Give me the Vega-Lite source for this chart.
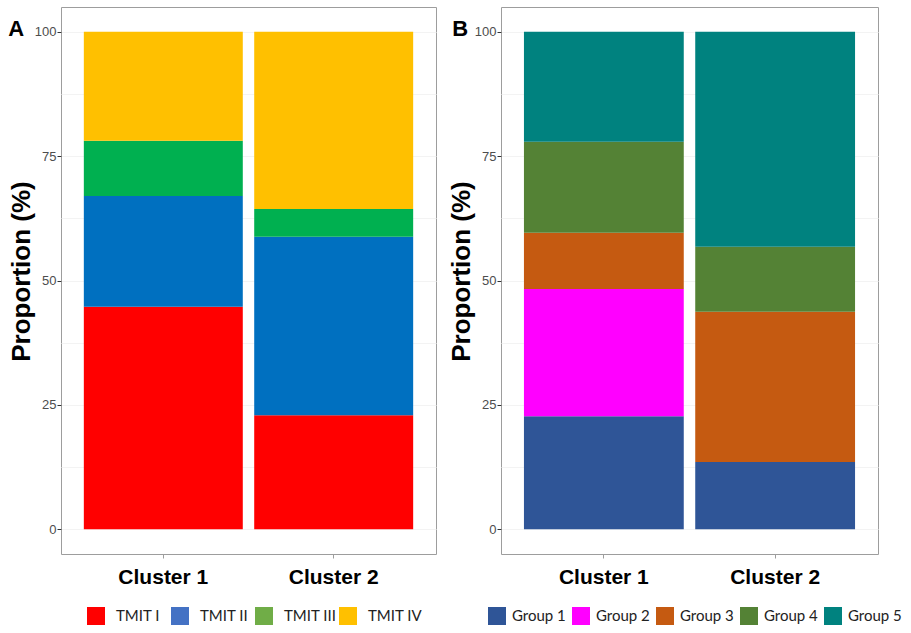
{
  "$schema": "https://vega.github.io/schema/vega-lite/v6.json",
  "background": "white",
  "padding": {"left": 7, "top": 6, "right": 2, "bottom": 5},
  "spacing": 10,
  "hconcat": [
    {
      "width": 375,
      "height": 547,
      "title": {"text": "A", "anchor": "start", "frame": "bounds", "fontSize": 22, "fontWeight": "bold", "font": "Liberation Sans", "color": "black", "dy": 38, "dx": 0},
      "data": {
        "values": [
          {"cluster": "Cluster 1", "type": "TMIT I", "pct": 44.7},
          {"cluster": "Cluster 1", "type": "TMIT II", "pct": 22.3},
          {"cluster": "Cluster 1", "type": "TMIT III", "pct": 11.1},
          {"cluster": "Cluster 1", "type": "TMIT IV", "pct": 21.9},
          {"cluster": "Cluster 2", "type": "TMIT I", "pct": 22.9},
          {"cluster": "Cluster 2", "type": "TMIT II", "pct": 35.9},
          {"cluster": "Cluster 2", "type": "TMIT III", "pct": 5.6},
          {"cluster": "Cluster 2", "type": "TMIT IV", "pct": 35.6}
        ]
      },
      "encoding": {
        "x": {
          "field": "cluster", "type": "nominal",
          "scale": {"paddingInner": 0.067, "paddingOuter": 0.134},
          "axis": {"title": null}
        }
      },
      "layer": [
        {
          "mark": {"type": "bar", "strokeWidth": 0},
          "encoding": {
            "y": {
              "field": "pct", "type": "quantitative", "stack": "zero",
              "scale": {"domain": [-5, 105], "nice": false, "zero": false},
              "axis": {
                "title": "Proportion (%)",
                "values": [0, 12.5, 25, 37.5, 50, 62.5, 75, 87.5, 100],
                "labelExpr": "datum.value % 25 === 0 ? datum.label : ''",
                "labelOverlap": false,
                "tickOpacity": {"condition": {"test": "datum.value % 25 === 0", "value": 1}, "value": 0}
              }
            },
            "color": {
              "field": "type", "type": "nominal",
              "scale": {"range": ["#FF0000", "#0070C0", "#00B050", "#FFC000"]},
              "legend": null
            },
            "order": {"field": "type"}
          }
        },
        {
          "mark": {"type": "bar", "strokeWidth": 0},
          "encoding": {
            "y": {"datum": 0, "type": "quantitative"},
            "y2": {"datum": 0},
            "fill": {
              "field": "type", "type": "nominal",
              "scale": {"domain": ["TMIT I", "TMIT II", "TMIT III", "TMIT IV"], "range": ["#FF0000", "#4472C4", "#70AD47", "#FFC000"]},
              "legend": {"title": null, "labelOffset": 11, "columnPadding": 0, "orient": "none", "legendX": 26, "legendY": 600}
            }
          }
        }
      ]
    },
    {
      "width": 377,
      "height": 547,
      "title": {"text": "B", "anchor": "start", "frame": "bounds", "fontSize": 22, "fontWeight": "bold", "font": "Liberation Sans", "color": "black", "dy": 38, "dx": 4},
      "data": {
        "values": [
          {"cluster": "Cluster 1", "group": "Group 1", "pct": 22.7},
          {"cluster": "Cluster 1", "group": "Group 2", "pct": 25.6},
          {"cluster": "Cluster 1", "group": "Group 3", "pct": 11.3},
          {"cluster": "Cluster 1", "group": "Group 4", "pct": 18.3},
          {"cluster": "Cluster 1", "group": "Group 5", "pct": 22.1},
          {"cluster": "Cluster 2", "group": "Group 1", "pct": 13.5},
          {"cluster": "Cluster 2", "group": "Group 2", "pct": 0},
          {"cluster": "Cluster 2", "group": "Group 3", "pct": 30.2},
          {"cluster": "Cluster 2", "group": "Group 4", "pct": 13.1},
          {"cluster": "Cluster 2", "group": "Group 5", "pct": 43.2}
        ]
      },
      "mark": {"type": "bar", "strokeWidth": 0},
      "encoding": {
        "x": {
          "field": "cluster", "type": "nominal",
          "scale": {"paddingInner": 0.067, "paddingOuter": 0.134},
          "axis": {"title": null}
        },
        "y": {
          "field": "pct", "type": "quantitative", "stack": "zero",
          "scale": {"domain": [-5, 105], "nice": false, "zero": false},
          "axis": {
            "title": "Proportion (%)",
            "values": [0, 12.5, 25, 37.5, 50, 62.5, 75, 87.5, 100],
            "labelExpr": "datum.value % 25 === 0 ? datum.label : ''",
            "labelOverlap": false,
            "tickOpacity": {"condition": {"test": "datum.value % 25 === 0", "value": 1}, "value": 0}
          }
        },
        "color": {
          "field": "group", "type": "nominal",
          "scale": {"domain": ["Group 1", "Group 2", "Group 3", "Group 4", "Group 5"], "range": ["#2F5597", "#FF00FF", "#C55A11", "#548235", "#00827F"]},
          "legend": {"title": null, "labelOffset": 6, "columnPadding": 6, "orient": "none", "legendX": -13, "legendY": 600}
        },
        "order": {"field": "group"}
      }
    }
  ],
  "resolve": {"scale": {"color": "independent", "fill": "independent", "y": "independent", "x": "independent"}},
  "config": {
    "font": "Liberation Sans",
    "view": {"stroke": "#9d9d9d", "strokeWidth": 1},
    "axisY": {
      "labelFontSize": 13,
      "labelColor": "#4d4d4d",
      "labelPadding": 1,
      "tickColor": "#333333",
      "tickSize": 4,
      "domain": false,
      "grid": true,
      "gridColor": "#f3f3f3",
      "titleFontSize": 26,
      "titleFontWeight": "bold",
      "titleColor": "black",
      "titlePadding": 0,
      "titleY": 264
    },
    "axisX": {
      "labelAngle": 0,
      "labelFontSize": 21,
      "labelFontWeight": "bold",
      "labelColor": "black",
      "labelPadding": 8,
      "tickColor": "#9d9d9d",
      "tickSize": 4,
      "domain": false,
      "grid": false
    },
    "legend": {
      "direction": "horizontal",
      "symbolType": "square",
      "symbolSize": 324,
      "symbolStrokeWidth": 0,
      "symbolOpacity": 1,
      "labelFont": "Lato",
      "labelFontSize": 15,
      "labelColor": "#222222",
      "gridAlign": "all",
      "padding": 0
    }
  }
}
